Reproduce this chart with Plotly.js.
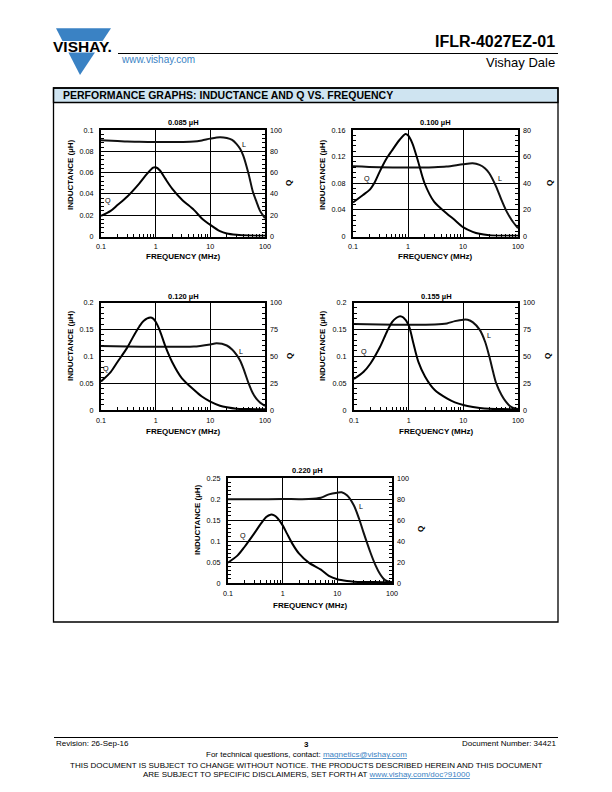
<!DOCTYPE html>
<html><head><meta charset="utf-8">
<script src="https://cdn.plot.ly/plotly-3.0.1.min.js"></script>
<style>html,body{margin:0;padding:0;background:#fff}#chart{width:612px;height:792px}</style>
</head><body><div id="chart"></div>
<script>
// ---------------- DATA ----------------
const X_TICKS = [0.1, 1, 10, 100];
const X_TICK_TEXT = ['0.1', '1', '10', '100'];

// 0.085 µH
const freqL_085 = [0.1, 0.2, 0.3, 0.5, 1, 2, 3, 5, 7, 10, 15, 20, 25, 30, 35, 40, 50, 60, 70, 80, 100];
const L_085 = [0.0903, 0.0896, 0.0891, 0.0889, 0.0888, 0.0888, 0.0888, 0.0891, 0.0902, 0.0919, 0.0932, 0.0925, 0.0907, 0.087, 0.0823, 0.076, 0.059, 0.0420, 0.0326, 0.0248, 0.0171];
const freqQ_085 = [0.1, 0.15, 0.2, 0.3, 0.5, 0.7, 0.9, 1, 1.2, 1.5, 2, 3, 5, 7, 10, 15, 20, 30, 50, 100];
const Q_085 = [19.3, 24, 29.5, 37.3, 49.7, 59, 64.6, 65, 62, 54.3, 45, 34.8, 25, 17, 10.9, 5, 2.8, 1.6, 0.9, 0.6];

// 0.100 µH
const freqL_100 = [0.1, 0.3, 1, 3, 5, 10, 15, 20, 25, 30, 40, 50, 60, 70, 80, 100];
const L_100 = [0.1055, 0.104, 0.1035, 0.104, 0.105, 0.1085, 0.110, 0.1075, 0.1025, 0.095, 0.075, 0.055, 0.040, 0.030, 0.0225, 0.0125];
const freqQ_100 = [0.1, 0.15, 0.2, 0.25, 0.3, 0.4, 0.5, 0.7, 0.9, 1, 1.2, 1.5, 2, 3, 5, 7, 10, 15, 20, 30, 50, 100];
const Q_100 = [25.5, 31, 35, 41, 48, 58, 64, 72.5, 77, 76, 70, 57.5, 40, 26, 17.5, 12.5, 7, 3.5, 2, 1, 0.6, 0.5];

// 0.120 µH
const freqL_120 = [0.1, 0.3, 1, 3, 5, 10, 13, 20, 25, 30, 35, 40, 50, 60, 70, 80, 100];
const L_120 = [0.119, 0.118, 0.1175, 0.1175, 0.118, 0.122, 0.124, 0.120, 0.1125, 0.103, 0.092, 0.078, 0.050, 0.031, 0.0206, 0.0144, 0.0075];
const freqQ_120 = [0.1, 0.15, 0.2, 0.3, 0.4, 0.5, 0.6, 0.8, 0.9, 1, 1.2, 1.5, 2, 3, 5, 7, 10, 15, 20, 30, 50, 100];
const Q_120 = [26.6, 35.3, 44.7, 57.8, 69.4, 77.5, 82.8, 86, 85, 82, 73.4, 59.4, 44.7, 29.7, 18.75, 12.5, 7.8, 4, 2.5, 1.2, 0.9, 0.6];

// 0.155 µH
const freqL_155 = [0.1, 0.3, 1, 3, 5, 7, 10, 12, 15, 20, 25, 30, 35, 40, 50, 60, 70, 80, 100];
const L_155 = [0.160, 0.159, 0.1585, 0.159, 0.161, 0.1653, 0.168, 0.1678, 0.163, 0.149, 0.127, 0.099, 0.071, 0.0495, 0.028, 0.0155, 0.008, 0.0043, 0.002];
const freqQ_155 = [0.1, 0.15, 0.2, 0.3, 0.4, 0.5, 0.6, 0.7, 0.8, 1, 1.2, 1.5, 2, 3, 5, 7, 10, 15, 20, 30, 50, 100];
const Q_155 = [28.8, 35.6, 43.3, 58.8, 72.8, 82, 85.8, 87.3, 86, 79, 63.5, 45, 31, 18.6, 10.8, 7.1, 4.6, 2.8, 1.9, 1.2, 0.9, 0.6];

// 0.220 µH
const freqL_220 = [0.1, 0.3, 1, 3, 5, 7, 10, 12, 15, 20, 25, 30, 40, 50, 60, 70, 80, 100];
const L_220 = [0.1995, 0.1995, 0.1998, 0.2, 0.203, 0.211, 0.215, 0.2159, 0.2087, 0.185, 0.153, 0.121, 0.0738, 0.042, 0.022, 0.0103, 0.0048, 0.0016];
const freqQ_220 = [0.1, 0.15, 0.2, 0.3, 0.4, 0.5, 0.6, 0.7, 0.8, 1, 1.2, 1.5, 2, 3, 5, 7, 10, 15, 20, 30, 50, 100];
const Q_220 = [19.4, 26.3, 34.3, 47, 56.5, 62.9, 65.1, 64.4, 61.9, 54.9, 47, 37.5, 27.9, 19.4, 12.7, 6.7, 3.5, 1.9, 1.3, 1, 1, 0.6];

const CHART_TITLES = ['0.085 µH', '0.100 µH', '0.120 µH', '0.155 µH', '0.220 µH'];

// ---------------- LAYOUT HELPERS ----------------
const W = 612, H = 792;
const px = x => x / W, py = y => 1 - y / H;
const FONT = '"Liberation Sans", Arial, Helvetica, sans-serif';
const BLUE = '#3a82c4';

const charts = [
  {title: CHART_TITLES[0], fL: freqL_085, L: L_085, fQ: freqQ_085, Q: Q_085, yMax: 0.1, yDt: 0.02, qMax: 100, qDt: 20,
   box: [101, 130, 265, 236.5], tPos: [183, 123], yT: [70, 175], qT: [288, 183], xT: [183, 256],
   lq: [0.136, 0.034], ll: [41.5, 0.086]},
  {title: CHART_TITLES[1], fL: freqL_100, L: L_100, fQ: freqQ_100, Q: Q_100, yMax: 0.16, yDt: 0.04, qMax: 80, qDt: 20,
   box: [353, 130, 518, 236.5], tPos: [435, 123], yT: [322, 175], qT: [549, 183], xT: [435, 256],
   lq: [0.18, 0.0875], ll: [47.7, 0.0875]},
  {title: CHART_TITLES[2], fL: freqL_120, L: L_120, fQ: freqQ_120, Q: Q_120, yMax: 0.2, yDt: 0.05, qMax: 100, qDt: 25,
   box: [101, 302.5, 265, 410], tPos: [183, 296], yT: [70, 346], qT: [289, 356], xT: [183, 431],
   lq: [0.122, 0.078], ll: [36.4, 0.109]},
  {title: CHART_TITLES[3], fL: freqL_155, L: L_155, fQ: freqQ_155, Q: Q_155, yMax: 0.2, yDt: 0.05, qMax: 100, qDt: 25,
   box: [354, 302.5, 518, 410], tPos: [436, 296], yT: [322, 346], qT: [547, 356], xT: [436, 431],
   lq: [0.15, 0.108], ll: [29.5, 0.138]},
  {title: CHART_TITLES[4], fL: freqL_220, L: L_220, fQ: freqQ_220, Q: Q_220, yMax: 0.25, yDt: 0.05, qMax: 100, qDt: 20,
   box: [228, 478, 392, 583], tPos: [307, 470], yT: [197, 520], qT: [420, 529], xT: [310, 605],
   lq: [0.185, 0.1135], ll: [27, 0.183]}
];

const minorX = [];
for (let d = -1; d < 2; d++) for (let m = 2; m <= 9; m++) minorX.push(m * Math.pow(10, d));

const tickFont = {family: FONT, size: 7.2, color: '#000'};
const traces = [];
const annotations = [];
const shapes = [];
const layout = {
  width: W, height: H, margin: {l: 0, r: 0, t: 0, b: 0},
  paper_bgcolor: '#fff', plot_bgcolor: '#fff', showlegend: false,
  font: {family: FONT, color: '#000'}
};

const ann = (x, y, text, size, opts) => Object.assign({
  xref: 'paper', yref: 'paper', x: px(x), y: py(y), text: text, showarrow: false,
  font: {family: FONT, size: size, color: '#000'}, xanchor: 'center', yanchor: 'middle'
}, opts || {});

charts.forEach((c, k) => {
  const xid = k === 0 ? 'x' : 'x' + (k + 1);
  const yL = 2 * k + 1, yR = 2 * k + 2;
  const yLid = yL === 1 ? 'y' : 'y' + yL;
  const yRid = 'y' + yR;
  const [x0, y0, x1, y1] = c.box;
  layout['xaxis' + (k === 0 ? '' : k + 1)] = {
    type: 'log', range: [-1, 2], domain: [px(x0), px(x1)], anchor: yLid,
    tickmode: 'array', tickvals: X_TICKS, ticktext: X_TICK_TEXT,
    showgrid: true, gridcolor: '#000', gridwidth: 1,
    showline: true, linecolor: '#000', linewidth: 2, mirror: true,
    ticks: '', tickfont: tickFont, zeroline: false, fixedrange: true, ticklabelstandoff: 2,
    minor: {tickmode: 'array', tickvals: minorX, ticks: 'inside', ticklen: 3, tickcolor: '#000', tickwidth: 1, showgrid: false}
  };
  layout['yaxis' + (yL === 1 ? '' : yL)] = {
    domain: [py(y1), py(y0)], anchor: xid, range: [0, c.yMax],
    tickmode: 'linear', tick0: 0, dtick: c.yDt,
    showgrid: true, gridcolor: '#000', gridwidth: 1,
    showline: true, linecolor: '#000', linewidth: 2, mirror: true,
    ticks: '', tickfont: tickFont, zeroline: false, fixedrange: true, ticklabelstandoff: 4,
    minor: {dtick: c.yDt / 5, ticks: 'inside', ticklen: 3, tickcolor: '#000', tickwidth: 1, showgrid: false}
  };
  layout['yaxis' + yR] = {
    overlaying: yLid, side: 'right', anchor: xid, range: [0, c.qMax],
    tickmode: 'linear', tick0: 0, dtick: c.qDt,
    showgrid: false, showline: false, ticks: '', tickfont: tickFont,
    zeroline: false, fixedrange: true, ticklabelstandoff: 4,
    minor: {dtick: c.qDt / 5, ticks: 'inside', ticklen: 3, tickcolor: '#000', tickwidth: 1, showgrid: false}
  };
  traces.push({x: c.fL, y: c.L, xaxis: xid, yaxis: yLid, type: 'scatter', mode: 'lines', name: 'L',
    line: {color: '#111', width: 2, shape: 'spline', smoothing: 0.8}, hoverinfo: 'skip'});
  traces.push({x: c.fQ, y: c.Q, xaxis: xid, yaxis: yRid, type: 'scatter', mode: 'lines', name: 'Q',
    line: {color: '#000', width: 2, shape: 'spline', smoothing: 0.8}, hoverinfo: 'skip'});

  annotations.push(ann(c.tPos[0], c.tPos[1], '<b>' + c.title + '</b>', 7.5));
  annotations.push(ann(c.yT[0], c.yT[1], '<b>INDUCTANCE (µH)</b>', 8, {textangle: -90}));
  annotations.push(ann(c.qT[0], c.qT[1], '<b>Q</b>', 8, {textangle: -90}));
  annotations.push(ann(c.xT[0], c.xT[1], '<b>FREQUENCY (MHz)</b>', 8));
  annotations.push({xref: xid, yref: yLid, x: Math.log10(c.lq[0]), y: c.lq[1], text: 'Q', showarrow: false,
    font: {family: FONT, size: 7.2, color: '#000'}});
  annotations.push({xref: xid, yref: yLid, x: Math.log10(c.ll[0]), y: c.ll[1], text: 'L', showarrow: false,
    font: {family: FONT, size: 7.2, color: '#000'}});
});

// page frame, header, footer
shapes.push({type: 'rect', xref: 'paper', yref: 'paper', x0: px(53.5), x1: px(558), y0: py(88), y1: py(102.5),
  fillcolor: '#cfe4f1', line: {color: '#000', width: 1.3}, layer: 'below'});
shapes.push({type: 'rect', xref: 'paper', yref: 'paper', x0: px(53.5), x1: px(558), y0: py(88), y1: py(622),
  line: {color: '#000', width: 1.3}});
shapes.push({type: 'line', xref: 'paper', yref: 'paper', x0: px(118), x1: px(558), y0: py(53.5), y1: py(53.5),
  line: {color: '#000', width: 1.2}});
shapes.push({type: 'line', xref: 'paper', yref: 'paper', x0: px(54), x1: px(558), y0: py(737.5), y1: py(737.5),
  line: {color: '#000', width: 1}});

// logo: inverted triangle split by a white band
const tri = {xl: 56, xr: 111, top: 28.3, ax: 80, ay: 75};
const edge = (y) => {
  const t = (y - tri.top) / (tri.ay - tri.top);
  return [tri.xl + (tri.ax - tri.xl) * t, tri.xr + (tri.ax - tri.xr) * t];
};
const P = (x, y) => px(x).toFixed(5) + ',' + py(y).toFixed(5);
const bandTop = 41, bandBot = 52.5;
const e1 = edge(bandTop), e2 = edge(bandBot);
shapes.push({type: 'path', xref: 'paper', yref: 'paper', fillcolor: BLUE, line: {width: 0},
  path: 'M' + P(tri.xl, tri.top) + ' L' + P(tri.xr, tri.top) + ' L' + P(e1[1], bandTop) + ' L' + P(e1[0], bandTop) + ' Z'});
shapes.push({type: 'path', xref: 'paper', yref: 'paper', fillcolor: BLUE, line: {width: 0},
  path: 'M' + P(e2[0], bandBot) + ' L' + P(e2[1], bandBot) + ' L' + P(tri.ax, tri.ay) + ' Z'});

annotations.push(ann(82, 46.8, '<b>VISHAY.</b>', 15.5));
annotations.push(ann(557, 41, '<b>IFLR-4027EZ-01</b>', 16, {xanchor: 'right'}));
annotations.push(ann(557, 62, 'Vishay Dale', 13, {xanchor: 'right'}));
annotations.push(ann(118.5, 59.5, '<span style="color:' + BLUE + '">www.vishay.com</span>', 10, {xanchor: 'left'}));
annotations.push(ann(60.5, 95.3, '<b>PERFORMANCE GRAPHS: INDUCTANCE AND Q VS. FREQUENCY</b>', 10.5, {xanchor: 'left'}));

annotations.push(ann(54, 743, 'Revision: 26-Sep-16', 8, {xanchor: 'left'}));
annotations.push(ann(306, 744, '<b>3</b>', 8));
annotations.push(ann(557.5, 743, 'Document Number: 34421', 8, {xanchor: 'right'}));
annotations.push(ann(306, 754.5, 'For technical questions, contact: <span style="color:' + BLUE + '"><u>magnetics@vishay.com</u></span>', 8));
annotations.push(ann(306, 765.5, 'THIS DOCUMENT IS SUBJECT TO CHANGE WITHOUT NOTICE. THE PRODUCTS DESCRIBED HEREIN AND THIS DOCUMENT', 8));
annotations.push(ann(306, 774.5, 'ARE SUBJECT TO SPECIFIC DISCLAIMERS, SET FORTH AT <span style="color:' + BLUE + '"><u>www.vishay.com/doc?91000</u></span>', 8));

layout.annotations = annotations;
layout.shapes = shapes;

Plotly.newPlot('chart', traces, layout, {staticPlot: true, displayModeBar: false});
</script>
</body></html>
